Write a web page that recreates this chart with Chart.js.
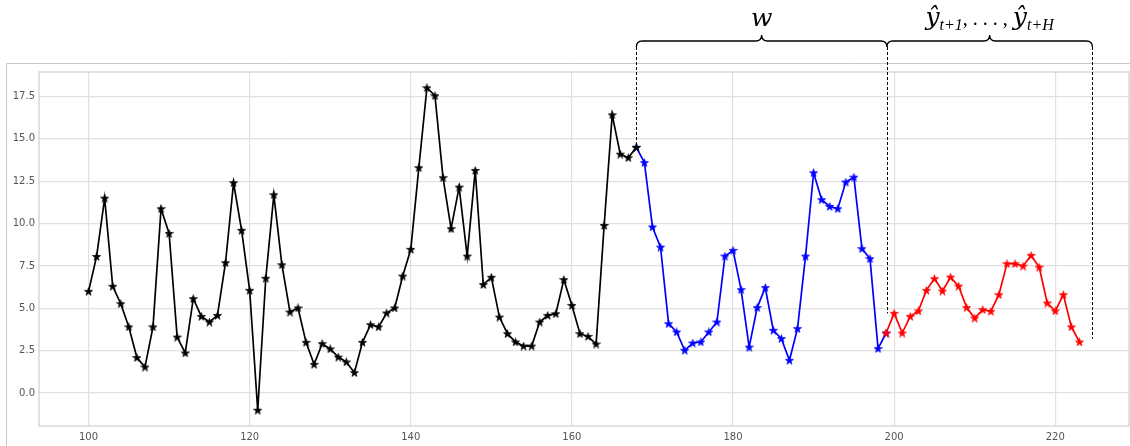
<!DOCTYPE html>
<html>
<head>
<meta charset="utf-8">
<script src="https://cdn.jsdelivr.net/npm/chart.js@4.4.1/dist/chart.umd.min.js"></script>
<style>
  body { margin: 0; background: #fff; }
  canvas { display: block; }
</style>
</head>
<body>
<canvas id="seriesChart" width="1130" height="446"></canvas>
<script>
// history (black), window w (blue), forecast horizon (red)
const blackStart = 100;
const blackValues = [6.0, 8.06, 11.5, 6.3, 5.27, 3.9, 2.09, 1.53, 3.9, 10.88,
    9.42, 3.3, 2.36, 5.57, 4.52, 4.19, 4.58, 7.69, 12.41, 9.6,
    6.06, -1.02, 6.77, 11.7, 7.57, 4.78, 5.02, 2.99, 1.69, 2.91,
    2.6, 2.12, 1.83, 1.2, 2.99, 4.03, 3.9, 4.72, 5.02, 6.9,
    8.48, 13.3, 18.02, 17.55, 12.71, 9.7, 12.15, 8.08, 13.14, 6.4,
    6.83, 4.48, 3.5, 3.01, 2.77, 2.77, 4.19, 4.58, 4.68, 6.69,
    5.17, 3.5, 3.34, 2.89, 9.89, 16.42, 14.1, 13.89, 14.5];
const blueStart = 168;
const blueValues = [14.5, 13.6, 9.8, 8.61, 4.09, 3.6, 2.52, 2.95, 3.01, 3.6,
    4.19, 8.08, 8.42, 6.1, 2.71, 5.04, 6.22, 3.7, 3.21, 1.93,
    3.8, 8.08, 13.0, 11.41, 11.01, 10.88, 12.45, 12.74, 8.52, 7.93,
    2.62, 3.54];
const redStart = 199;
const redValues = [3.54, 4.7, 3.54, 4.52, 4.84, 6.06, 6.75, 6.02, 6.84, 6.31,
    5.04, 4.42, 4.92, 4.82, 5.8, 7.63, 7.63, 7.49, 8.12, 7.43,
    5.31, 4.84, 5.8, 3.9, 3.01];
const xTicks = [100, 120, 140, 160, 180, 200, 220];
const yTicks = [0, 2.5, 5, 7.5, 10, 12.5, 15, 17.5];

// bracket ends: [x, y] where dashed guide lines stop
const guideLines = [[168, 14.5], [199.1, 4.7], [224.6, 3.2]];

function toPoints(start, values) {
    return values.map((v, i) => ({ x: start + i, y: v }));
}

function starImage(color) {
    const size = 9;
    const c = document.createElement('canvas');
    c.width = size;
    c.height = size;
    const g = c.getContext('2d');
    const cx = size / 2, cy = size / 2 + 0.4, ro = 4.2, ri = ro * 0.382;
    g.beginPath();
    for (let i = 0; i < 10; i++) {
        const r = i % 2 === 0 ? ro : ri;
        const a = -Math.PI / 2 + i * Math.PI / 5;
        const px = cx + r * Math.cos(a), py = cy + r * Math.sin(a);
        if (i === 0) g.moveTo(px, py); else g.lineTo(px, py);
    }
    g.closePath();
    g.fillStyle = color;
    g.fill();
    g.strokeStyle = color;
    g.lineWidth = 0.8;
    g.stroke();
    return c;
}

function drawBrace(ctx, x1, x2, y, r) {
    const xm = (x1 + x2) / 2;
    ctx.beginPath();
    ctx.moveTo(x1, y + r);
    ctx.quadraticCurveTo(x1, y, x1 + r, y);
    ctx.lineTo(xm - r, y);
    ctx.quadraticCurveTo(xm, y, xm, y - r);
    ctx.quadraticCurveTo(xm, y, xm + r, y);
    ctx.lineTo(x2 - r, y);
    ctx.quadraticCurveTo(x2, y, x2, y + r);
    ctx.stroke();
}

const frameAndBraces = {
    id: 'frameAndBraces',
    beforeDatasetsDraw(chart) {
        const { ctx, chartArea: a } = chart;
        ctx.save();
        ctx.strokeStyle = '#cfcfcf';
        ctx.lineWidth = 1.2;
        ctx.strokeRect(a.left, a.top, a.right - a.left, a.bottom - a.top);
        ctx.strokeStyle = '#c8c8c8';
        ctx.lineWidth = 1;
        ctx.beginPath();
        ctx.moveTo(6.5, 446);
        ctx.lineTo(6.5, 63.5);
        ctx.lineTo(1130, 63.5);
        ctx.stroke();
        ctx.restore();
    },
    afterDraw(chart) {
        const { ctx } = chart;
        const xs = chart.scales.x, ys = chart.scales.y;
        const braceY = 41, r = 6;
        const px = guideLines.map(p => xs.getPixelForValue(p[0]));
        ctx.save();
        // dashed guides
        ctx.strokeStyle = '#000';
        ctx.lineWidth = 1;
        ctx.setLineDash([3, 2]);
        guideLines.forEach((p, i) => {
            ctx.beginPath();
            ctx.moveTo(Math.round(px[i]) + 0.5, braceY + r);
            ctx.lineTo(Math.round(px[i]) + 0.5, ys.getPixelForValue(p[1]));
            ctx.stroke();
        });
        ctx.setLineDash([]);
        ctx.lineWidth = 1.3;
        drawBrace(ctx, px[0], px[1], braceY, r);
        drawBrace(ctx, px[1], px[2], braceY, r);

        // labels
        ctx.fillStyle = '#000';
        ctx.textBaseline = 'alphabetic';
        const big = 'italic 25px "DejaVu Serif", "Liberation Serif", serif';
        const sub = 'italic 16px "Liberation Serif", "DejaVu Serif", serif';
        const plain = '20px "Liberation Serif", "DejaVu Serif", serif';
        ctx.font = big;
        ctx.textAlign = 'center';
        ctx.fillText('w', (px[0] + px[1]) / 2, 26);

        const parts = [
            [big, 'ŷ', 0], [sub, 't+1', 5], [plain, ', . . . , ', 0],
            [big, 'ŷ', 0], [sub, 't+H', 5]
        ];
        ctx.textAlign = 'left';
        let total = 0;
        parts.forEach(p => { ctx.font = p[0]; total += ctx.measureText(p[1]).width; });
        let x = (px[1] + px[2]) / 2 - total / 2;
        parts.forEach(p => {
            ctx.font = p[0];
            ctx.fillText(p[1], x, 25 + p[2]);
            x += ctx.measureText(p[1]).width;
        });
        ctx.restore();
    }
};

const lineStyle = (color) => ({
    borderColor: color,
    backgroundColor: color,
    borderWidth: 1.7,
    pointStyle: starImage(color),
    pointRadius: 4,
    tension: 0,
    fill: false
});

const ctx = document.getElementById('seriesChart').getContext('2d');
new Chart(ctx, {
    type: 'line',
    data: {
        datasets: [
            Object.assign({ label: 'history', data: toPoints(blackStart, blackValues) }, lineStyle('#000000')),
            Object.assign({ label: 'forecast', data: toPoints(redStart, redValues) }, lineStyle('#ff0000')),
            Object.assign({ label: 'window', data: toPoints(blueStart, blueValues) }, lineStyle('#0000ff'))
        ]
    },
    options: {
        responsive: false,
        animation: false,
        layout: { autoPadding: false, padding: { top: 72, right: 1, left: 0, bottom: 0 } },
        plugins: { legend: { display: false }, tooltip: { enabled: false } },
        scales: {
            x: {
                type: 'linear',
                min: 93.85,
                max: 229.15,
                afterBuildTicks: (scale) => { scale.ticks = xTicks.map(v => ({ value: v })); },
                afterFit: (scale) => {
                    scale.height = 20;
                    scale.paddingLeft = 0;
                    scale.paddingRight = 0;
                },
                grid: { color: '#e0e0e0', lineWidth: 1.2, drawTicks: false },
                border: { display: false },
                ticks: {
                    padding: 5,
                    color: '#555',
                    font: { family: 'DejaVu Sans', size: 10 },
                    callback: (v) => String(v)
                }
            },
            y: {
                type: 'linear',
                min: -1.95,
                max: 18.95,
                afterBuildTicks: (scale) => { scale.ticks = yTicks.map(v => ({ value: v })); },
                afterFit: (scale) => {
                    scale.width = 39;
                    scale.paddingTop = 0;
                    scale.paddingBottom = 0;
                },
                grid: { color: '#e0e0e0', lineWidth: 1.2, drawTicks: false },
                border: { display: false },
                ticks: {
                    padding: 4,
                    color: '#555',
                    font: { family: 'DejaVu Sans', size: 10 },
                    callback: (v) => v.toFixed(1)
                }
            }
        }
    },
    plugins: [frameAndBraces]
});
</script>
</body>
</html>
